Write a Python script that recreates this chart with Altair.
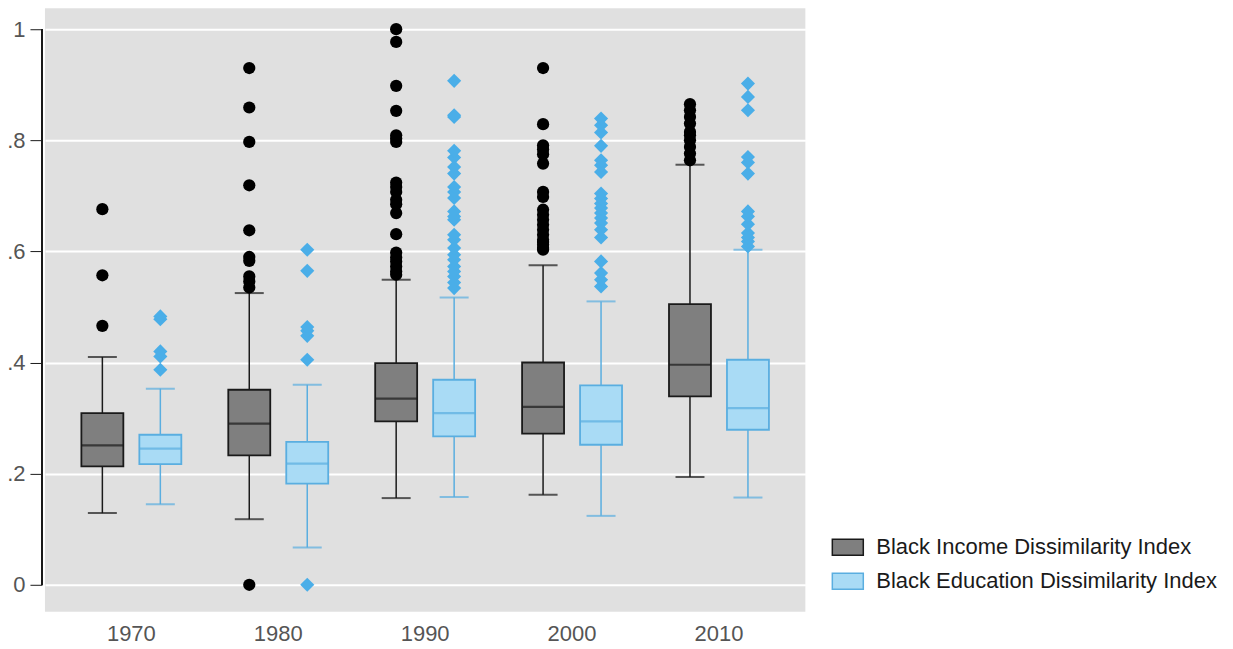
import altair as alt
import pandas as pd

years = ["1970", "1980", "1990", "2000", "2010"]
series_names = ["Black Income Dissimilarity Index", "Black Education Dissimilarity Index"]

income_lo = [0.129, 0.118, 0.156, 0.162, 0.194]
income_q1 = [0.213, 0.233, 0.294, 0.272, 0.339]
income_med = [0.251, 0.290, 0.335, 0.320, 0.396]
income_q3 = [0.309, 0.351, 0.399, 0.400, 0.505]
income_hi = [0.410, 0.525, 0.549, 0.575, 0.756]

edu_lo = [0.145, 0.067, 0.158, 0.124, 0.157]
edu_q1 = [0.217, 0.182, 0.267, 0.252, 0.279]
edu_med = [0.245, 0.218, 0.309, 0.294, 0.318]
edu_q3 = [0.270, 0.257, 0.369, 0.359, 0.405]
edu_hi = [0.353, 0.360, 0.517, 0.510, 0.603]

income_outliers = {
    "1970": [0.466, 0.557, 0.676],
    "1980": [0.0, 0.535, 0.546, 0.555, 0.583, 0.590, 0.638, 0.719, 0.797, 0.859, 0.930],
    "1990": [0.558, 0.564, 0.573, 0.582, 0.589, 0.598, 0.631, 0.669, 0.685, 0.693, 0.707,
             0.716, 0.724, 0.797, 0.803, 0.809, 0.853, 0.898, 0.977, 1.0],
    "2000": [0.603, 0.606, 0.612, 0.617, 0.621, 0.630, 0.639, 0.648, 0.657, 0.666, 0.675,
             0.698, 0.707, 0.758, 0.775, 0.784, 0.791, 0.829, 0.930],
    "2010": [0.764, 0.776, 0.788, 0.800, 0.809, 0.815, 0.830, 0.842, 0.854, 0.865],
}
edu_outliers = {
    "1970": [0.387, 0.411, 0.420, 0.478, 0.483],
    "1980": [0.0, 0.405, 0.448, 0.457, 0.464, 0.565, 0.603],
    "1990": [0.534, 0.544, 0.555, 0.564, 0.573, 0.585, 0.594, 0.606, 0.621, 0.630, 0.657,
             0.663, 0.672, 0.696, 0.707, 0.716, 0.740, 0.752, 0.769, 0.781, 0.842, 0.845, 0.907],
    "2000": [0.537, 0.549, 0.561, 0.582, 0.625, 0.639, 0.651, 0.660, 0.669, 0.678, 0.686,
             0.695, 0.704, 0.743, 0.755, 0.764, 0.790, 0.814, 0.827, 0.839],
    "2010": [0.609, 0.618, 0.625, 0.633, 0.649, 0.663, 0.672, 0.740, 0.760, 0.770, 0.854,
             0.878, 0.902],
}

rows = []
for i, yr in enumerate(years):
    rows.append(dict(year=yr, series=series_names[0], lo=income_lo[i], q1=income_q1[i],
                     med=income_med[i], q3=income_q3[i], hi=income_hi[i]))
    rows.append(dict(year=yr, series=series_names[1], lo=edu_lo[i], q1=edu_q1[i],
                     med=edu_med[i], q3=edu_q3[i], hi=edu_hi[i]))
box_df = pd.DataFrame(rows)

out_rows = []
for yr in years:
    for v in income_outliers[yr]:
        out_rows.append(dict(year=yr, series=series_names[0], value=v))
    for v in edu_outliers[yr]:
        out_rows.append(dict(year=yr, series=series_names[1], value=v))
out_df = pd.DataFrame(out_rows)

FONT = "Liberation Sans"
dark = "#1a1a1a"
blue_line = "#5aaee0"
blue_fill = "#a9dbf5"
gray_fill = "#7f7f7f"
diamond_col = "#4aaee8"
label_col = "#555555"

yscale = alt.Scale(domain=[-0.0486, 1.0376], nice=False, zero=False)
x_enc = alt.X("year:N", title=None, sort=years,
              scale=alt.Scale(paddingInner=0, paddingOuter=0.088),
              axis=alt.Axis(labelAngle=0, domain=False, ticks=False, labelPadding=12,
                            labelFontSize=22, labelColor=label_col, grid=False, labelFont=FONT,
                            domainOpacity=0, tickOpacity=0))
xo_enc = alt.XOffset("series:N", sort=series_names,
                     scale=alt.Scale(domain=series_names, paddingInner=0, paddingOuter=0.267))
# reversed domain order so this (legend-less) scale is not merged with the box legend
line_color = alt.Color("series:N", legend=None,
                       scale=alt.Scale(domain=series_names[::-1], range=[blue_line, dark]))

base = alt.Chart(box_df)

axis_line = base.mark_rule(color=dark, strokeWidth=1.3).encode(
    x=alt.value(-3), y=alt.datum(0), y2=alt.datum(1))

whisk_lo = base.mark_rule(strokeWidth=1.5).encode(
    x=x_enc, xOffset=xo_enc,
    y=alt.Y("lo:Q", scale=yscale, title=None,
            axis=alt.Axis(values=[0, 0.2, 0.4, 0.6, 0.8, 1],
                          labelExpr="replace(format(datum.value, '.1~f'), '0.', '.')",
                          domain=False, tickSize=12, offset=3, tickColor=dark, tickWidth=1,
                          labelPadding=5, labelFontSize=22, labelColor=label_col,
                          labelFont=FONT, grid=True, gridColor="white", gridWidth=2)),
    y2="q1:Q", color=line_color)
whisk_hi = base.mark_rule(strokeWidth=1.5).encode(
    x=x_enc, xOffset=xo_enc, y=alt.Y("q3:Q", scale=yscale), y2="hi:Q", color=line_color)

boxes = base.mark_bar(size=42, strokeWidth=1.8).encode(
    x=x_enc, xOffset=xo_enc, y=alt.Y("q1:Q", scale=yscale), y2="q3:Q",
    fill=alt.Fill("series:N", title=None,
                  scale=alt.Scale(domain=series_names, range=[gray_fill, blue_fill])),
    stroke=alt.Stroke("series:N", title=None,
                      scale=alt.Scale(domain=series_names, range=[dark, blue_line])))

median = base.mark_tick(size=42, thickness=2.2).encode(
    x=x_enc, xOffset=xo_enc, y=alt.Y("med:Q", scale=yscale), color=line_color)
cap_lo = base.mark_tick(size=29, thickness=2).encode(
    x=x_enc, xOffset=xo_enc, y=alt.Y("lo:Q", scale=yscale), color=line_color)
cap_hi = base.mark_tick(size=29, thickness=2).encode(
    x=x_enc, xOffset=xo_enc, y=alt.Y("hi:Q", scale=yscale), color=line_color)

obase = alt.Chart(out_df)
circles = obase.transform_filter(alt.datum.series == series_names[0]).mark_point(
    shape="circle", filled=True, size=150, color="black", opacity=1).encode(
    x=x_enc, xOffset=xo_enc, y=alt.Y("value:Q", scale=yscale))
diamonds = obase.transform_filter(alt.datum.series == series_names[1]).mark_point(
    shape="diamond", filled=True, size=200, color=diamond_col, opacity=1).encode(
    x=x_enc, xOffset=xo_enc, y=alt.Y("value:Q", scale=yscale))

chart = alt.layer(
    whisk_lo, whisk_hi, boxes, median, cap_lo, cap_hi, circles, diamonds, axis_line
).properties(
    width=761, height=604,
    autosize=alt.AutoSizeParams(type="none"),
    padding={"left": 37, "top": 0, "right": 420, "bottom": 36},
).configure(font=FONT).configure_view(
    fill="#e0e0e0", stroke="transparent", strokeWidth=0
).configure_axis(domain=False).configure_axisX(
    domain=False, ticks=False, domainOpacity=0, tickOpacity=0
).configure_legend(
    orient="none", legendX=787, legendY=523,
    symbolType="M-1,-0.52H1V0.52H-1Z", symbolSize=961, symbolStrokeWidth=1.5,
    labelFontSize=22, labelColor=dark, labelFont=FONT, labelOffset=12,
    rowPadding=6, padding=0, labelLimit=400,
)

chart.save("out.html", embed_options={"renderer": "svg", "actions": False})
